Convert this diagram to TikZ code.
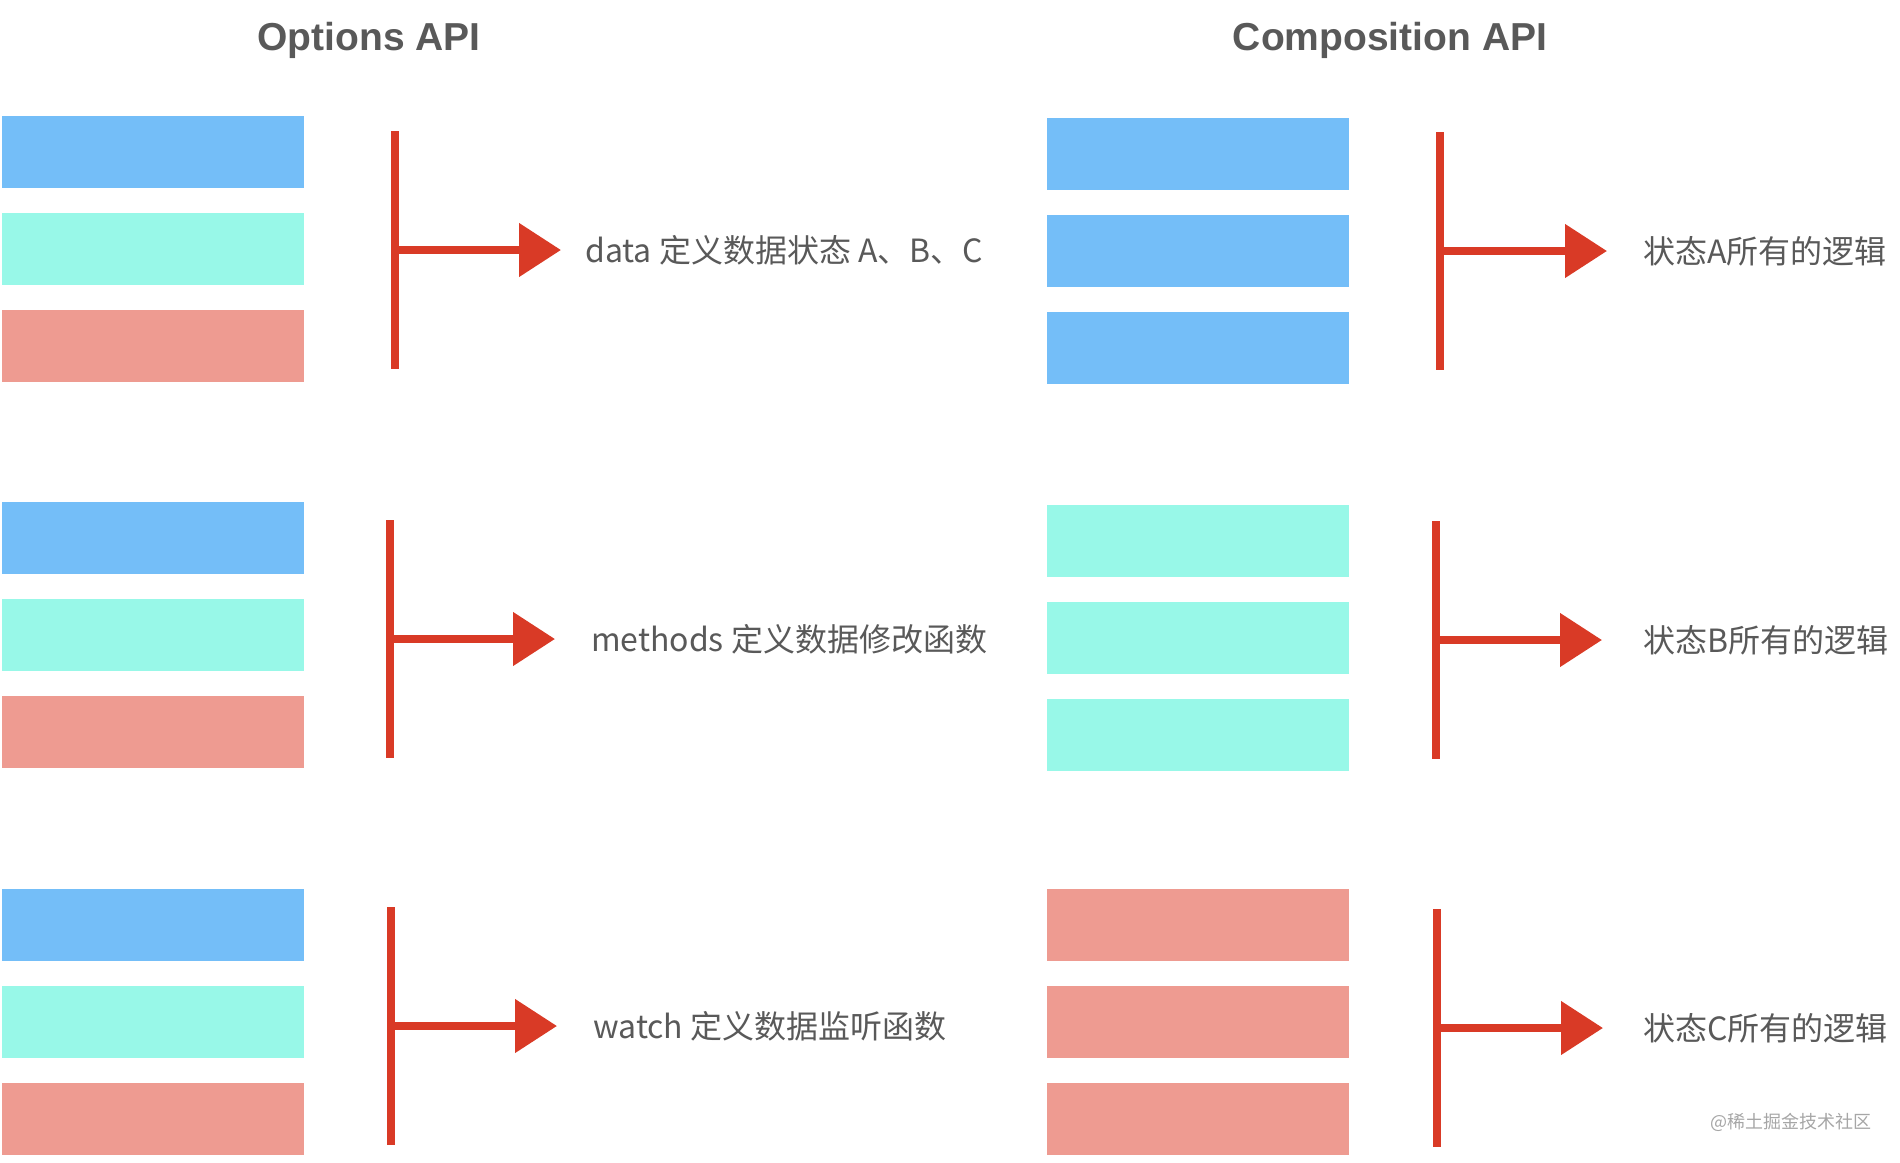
\documentclass[tikz,border=0pt]{standalone}
\usepackage{fontspec}
\setmainfont{Noto Sans CJK SC}
\newfontfamily\titlefont{Liberation Sans}
\usepackage{xcolor}
\usetikzlibrary{arrows.meta,positioning}
\definecolor{barblue}{RGB}{116,190,248}
\definecolor{barcyan}{RGB}{152,248,232}
\definecolor{barsalmon}{RGB}{238,155,145}
\definecolor{penred}{RGB}{217,58,38}
\definecolor{txtgray}{RGB}{89,89,89}

\begin{document}
\begin{tikzpicture}[
  x=1pt,y=-1pt,
  node distance=25pt,
  bar/.style={minimum width=302pt,minimum height=72pt,inner sep=0pt,outer sep=0pt},
  pen/.style={line width=8pt,color=penred},
  arr/.style={-{Triangle[length=42pt,width=52pt]},line width=8pt,color=penred,shorten >=36pt},
  lbl/.style={font=\fontsize{32}{38}\selectfont,text=txtgray,anchor=west,inner sep=0pt},
  ttl/.style={font=\titlefont\bfseries\fontsize{39}{46}\selectfont,text=txtgray}
]
\useasboundingbox (0,0) rectangle (1900,1162);

% titles
\node[ttl] (optt) at (369,40) {Options API};
\node[ttl] (compt) at (1390,40) {Composition API};

% Options API: bars
\node[bar,fill=barblue,anchor=north west] (o1a) at (2,116) {};
\node[bar,fill=barcyan,below=of o1a]   (o1b) {};
\node[bar,fill=barsalmon,below=of o1b] (o1c) {};

\node[bar,fill=barblue,anchor=north west] (o2a) at (2,502) {};
\node[bar,fill=barcyan,below=of o2a]   (o2b) {};
\node[bar,fill=barsalmon,below=of o2b] (o2c) {};

\node[bar,fill=barblue,anchor=north west] (o3a) at (2,889) {};
\node[bar,fill=barcyan,below=of o3a]   (o3b) {};
\node[bar,fill=barsalmon,below=of o3b] (o3c) {};

% Composition API: bars
\node[bar,fill=barblue,anchor=north west] (c1a) at (1047,118) {};
\node[bar,fill=barblue,below=of c1a] (c1b) {};
\node[bar,fill=barblue,below=of c1b] (c1c) {};

\node[bar,fill=barcyan,anchor=north west] (c2a) at (1047,505) {};
\node[bar,fill=barcyan,below=of c2a] (c2b) {};
\node[bar,fill=barcyan,below=of c2b] (c2c) {};

\node[bar,fill=barsalmon,anchor=north west] (c3a) at (1047,889) {};
\node[bar,fill=barsalmon,below=of c3a] (c3b) {};
\node[bar,fill=barsalmon,below=of c3b] (c3c) {};

% labels
\node[lbl] (ol1) at (585,250) {data 定义数据状态 A、B、C};
\node[lbl] (ol2) at (591,639) {methods 定义数据修改函数};
\node[lbl] (ol3) at (593,1026) {watch 定义数据监听函数};
\node[lbl] (cl1) at (1643,251) {状态A所有的逻辑};
\node[lbl] (cl2) at (1643,640) {状态B所有的逻辑};
\node[lbl] (cl3) at (1643,1028) {状态C所有的逻辑};

% brackets
\draw[pen] (395,131) coordinate (os1t) -- (395,369) coordinate (os1b);
\draw[pen] (390,520) coordinate (os2t) -- (390,758) coordinate (os2b);
\draw[pen] (391,907) coordinate (os3t) -- (391,1145) coordinate (os3b);
\draw[pen] (1440,132) coordinate (cs1t) -- (1440,370) coordinate (cs1b);
\draw[pen] (1436,521) coordinate (cs2t) -- (1436,759) coordinate (cs2b);
\draw[pen] (1437,909) coordinate (cs3t) -- (1437,1147) coordinate (cs3b);

\coordinate (os1) at (395,250);
\coordinate (os2) at (390,639);
\coordinate (os3) at (391,1026);
\coordinate (cs1) at (1440,251);
\coordinate (cs2) at (1436,640);
\coordinate (cs3) at (1437,1028);

% arrows
\draw[arr,shorten >=24pt] (os1) -- (ol1.west);
\draw[arr] (os2) -- (ol2.west);
\draw[arr] (os3) -- (ol3.west);
\draw[arr] (cs1) -- (cl1.west);
\draw[arr,shorten >=41pt] (cs2) -- (cl2.west);
\draw[arr,shorten >=40pt] (cs3) -- (cl3.west);

% watermark
\node[font=\fontsize{18}{22}\selectfont,text=gray!70] (wm) at (1791,1122) {@稀土掘金技术社区};
\end{tikzpicture}
\end{document}
